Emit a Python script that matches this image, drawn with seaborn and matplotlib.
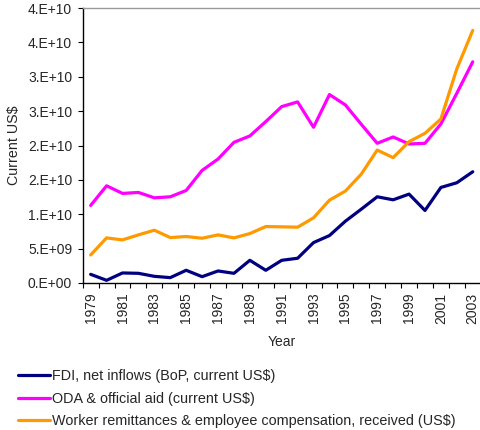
import matplotlib
matplotlib.use("Agg")
import matplotlib.pyplot as plt
from matplotlib.ticker import FixedLocator, FixedFormatter, NullFormatter
from matplotlib.lines import Line2D
import seaborn as sns
import pandas as pd

years = list(range(1979, 2004))
fdi = [1.26e9, 0.39e9, 1.46e9, 1.41e9, 0.97e9, 0.78e9, 1.85e9, 0.92e9, 1.75e9, 1.41e9,
       3.3e9, 1.85e9, 3.3e9, 3.6e9, 5.88e9, 6.9e9, 8.99e9, 10.74e9, 12.54e9, 12.1e9,
       12.93e9, 10.55e9, 13.9e9, 14.58e9, 16.18e9]
oda = [11.28e9, 14.14e9, 13.03e9, 13.17e9, 12.39e9, 12.54e9, 13.46e9, 16.38e9, 18.03e9, 20.46e9,
       21.39e9, 23.48e9, 25.66e9, 26.34e9, 22.65e9, 27.41e9, 25.9e9, 23.08e9, 20.32e9, 21.24e9,
       20.22e9, 20.32e9, 23.13e9, 27.6e9, 32.17e9]
remit = [4.08e9, 6.56e9, 6.27e9, 7.0e9, 7.68e9, 6.61e9, 6.76e9, 6.51e9, 7.0e9, 6.56e9,
         7.19e9, 8.21e9, 8.17e9, 8.12e9, 9.48e9, 12.05e9, 13.37e9, 15.84e9, 19.34e9, 18.23e9,
         20.56e9, 21.77e9, 23.86e9, 31.15e9, 36.74e9]
series_names = ["FDI, net inflows (BoP, current US\\$)",
                "ODA & official aid (current US\\$)",
                "Worker remittances & employee compensation, received (US\\$)"]
colors = ["#000080", "#FF00FF", "#FF9900"]
y_ticks = [0, 5e9, 1e10, 1.5e10, 2e10, 2.5e10, 3e10, 3.5e10, 4e10]
y_tick_labels = ["0.E+00", "5.E+09", "1.E+10", "2.E+10", "2.E+10", "3.E+10", "3.E+10", "4.E+10", "4.E+10"]
x_tick_years = years[::2]

df = pd.concat([
    pd.DataFrame({"Year": years, "Value": vals, "Series": name})
    for name, vals in zip(series_names, [fdi, oda, remit])
])

sns.set_style("white")
plt.rcParams['font.family'] = ['Liberation Sans', 'DejaVu Sans']

fig = plt.figure(figsize=(4.8, 4.3), dpi=100)
ax = fig.add_axes([82.7/480, 1-283/430, 398/480, 275/430])

sns.lineplot(data=df, x="Year", y="Value", hue="Series", palette=colors,
             linewidth=2.3, ax=ax, legend=False)

ax.set_xlim(1978.5, 2003.5)
ax.set_ylim(0, 4e10)
ax.yaxis.set_major_locator(FixedLocator(y_ticks))
ax.yaxis.set_major_formatter(FixedFormatter(y_tick_labels))
ax.xaxis.set_major_locator(FixedLocator(x_tick_years))
ax.xaxis.set_major_formatter(FixedFormatter([str(y) for y in x_tick_years]))
ax.xaxis.set_minor_locator(FixedLocator([y - 0.5 for y in years] + [2003.5]))
ax.xaxis.set_minor_formatter(NullFormatter())
ax.tick_params(axis='x', which='major', length=0, labelsize=10, rotation=90, pad=7)
ax.tick_params(axis='x', which='minor', length=3.6, width=0.8, color='black', direction='out')
ax.tick_params(axis='y', which='major', length=3.6, width=0.8, color='black', direction='out',
               labelsize=10, pad=4)
ax.xaxis.set_ticks_position('bottom')
ax.yaxis.set_ticks_position('left')

for s in ['left', 'bottom']:
    ax.spines[s].set_color('black')
    ax.spines[s].set_linewidth(1.0)
for s in ['top', 'right']:
    ax.spines[s].set_color('#999999')
    ax.spines[s].set_linewidth(1.0)

ax.set_xlabel("Year", fontsize=10, labelpad=8)
ax.set_ylabel("Current US\\$", fontsize=10.3, labelpad=5)

handles = [Line2D([0], [0], color=c, lw=2.3) for c in colors]
fig.legend(handles, series_names, loc='upper left', bbox_to_anchor=(18/480, 1-369/430),
           frameon=False, fontsize=10.4, handlelength=2.2, handletextpad=0.15,
           labelspacing=0.6, borderaxespad=0, borderpad=0)

fig.savefig("out.png", dpi=100)
